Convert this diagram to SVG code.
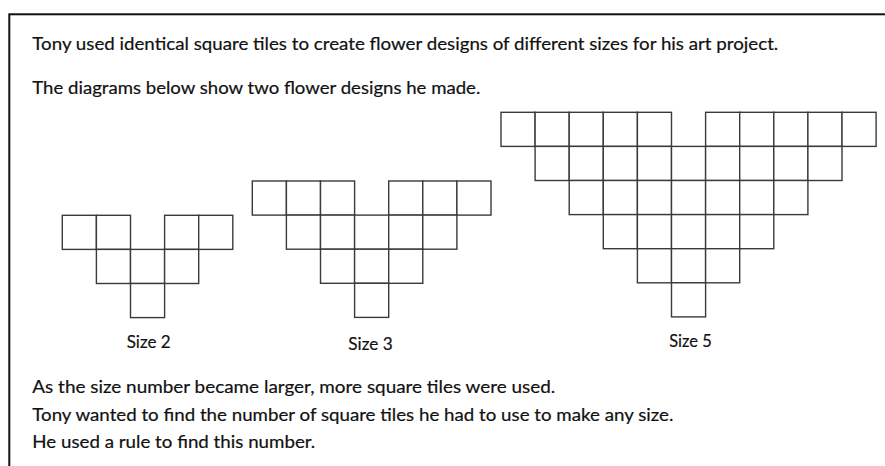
<svg xmlns="http://www.w3.org/2000/svg" width="885" height="466" viewBox="0 0 885 466">
<style>
  .frame { fill: none; stroke: #111; stroke-width: 2; }
  .tile { fill: #fff; stroke: #3a3a3a; stroke-width: 1.4; }
  .t { font-family: Lato, "Open Sans", "Liberation Sans", sans-serif; font-size: 17.5px; fill: #111; stroke: #111; stroke-width: 0.2; }
</style>
<defs>
  <rect id="cell" class="tile" width="34.1" height="34.1"/>
</defs>
<rect width="885" height="466" fill="#fff"/>
<rect class="frame" x="9.3" y="14.3" width="900" height="500"/>

<g id="intro">
  <text class="t" x="32.3" y="50" textLength="746" lengthAdjust="spacingAndGlyphs">Tony used identical square tiles to create flower designs of different sizes for his art project.</text>
  <text class="t" x="32.3" y="94" textLength="448" lengthAdjust="spacingAndGlyphs">The diagrams below show two flower designs he made.</text>
</g>

<g id="size2" transform="translate(62.3,215.3)">
  <use href="#cell" x="0" y="0"/>
  <use href="#cell" x="34.1" y="0"/>
  <use href="#cell" x="102.3" y="0"/>
  <use href="#cell" x="136.4" y="0"/>
  <use href="#cell" x="34.1" y="34.1"/>
  <use href="#cell" x="68.2" y="34.1"/>
  <use href="#cell" x="102.3" y="34.1"/>
  <use href="#cell" x="68.2" y="68.2"/>
</g>

<g id="size3" transform="translate(252.3,181)">
  <use href="#cell" x="0" y="0"/>
  <use href="#cell" x="34.1" y="0"/>
  <use href="#cell" x="68.2" y="0"/>
  <use href="#cell" x="136.4" y="0"/>
  <use href="#cell" x="170.5" y="0"/>
  <use href="#cell" x="204.6" y="0"/>
  <use href="#cell" x="34.1" y="34.1"/>
  <use href="#cell" x="68.2" y="34.1"/>
  <use href="#cell" x="102.3" y="34.1"/>
  <use href="#cell" x="136.4" y="34.1"/>
  <use href="#cell" x="170.5" y="34.1"/>
  <use href="#cell" x="68.2" y="68.2"/>
  <use href="#cell" x="102.3" y="68.2"/>
  <use href="#cell" x="136.4" y="68.2"/>
  <use href="#cell" x="102.3" y="102.3"/>
</g>

<g id="size5" transform="translate(501,112.3)">
  <use href="#cell" x="0" y="0"/>
  <use href="#cell" x="34.1" y="0"/>
  <use href="#cell" x="68.2" y="0"/>
  <use href="#cell" x="102.3" y="0"/>
  <use href="#cell" x="136.4" y="0"/>
  <use href="#cell" x="204.6" y="0"/>
  <use href="#cell" x="238.7" y="0"/>
  <use href="#cell" x="272.8" y="0"/>
  <use href="#cell" x="306.9" y="0"/>
  <use href="#cell" x="341" y="0"/>
  <use href="#cell" x="34.1" y="34.1"/>
  <use href="#cell" x="68.2" y="34.1"/>
  <use href="#cell" x="102.3" y="34.1"/>
  <use href="#cell" x="136.4" y="34.1"/>
  <use href="#cell" x="170.5" y="34.1"/>
  <use href="#cell" x="204.6" y="34.1"/>
  <use href="#cell" x="238.7" y="34.1"/>
  <use href="#cell" x="272.8" y="34.1"/>
  <use href="#cell" x="306.9" y="34.1"/>
  <use href="#cell" x="68.2" y="68.2"/>
  <use href="#cell" x="102.3" y="68.2"/>
  <use href="#cell" x="136.4" y="68.2"/>
  <use href="#cell" x="170.5" y="68.2"/>
  <use href="#cell" x="204.6" y="68.2"/>
  <use href="#cell" x="238.7" y="68.2"/>
  <use href="#cell" x="272.8" y="68.2"/>
  <use href="#cell" x="102.3" y="102.3"/>
  <use href="#cell" x="136.4" y="102.3"/>
  <use href="#cell" x="170.5" y="102.3"/>
  <use href="#cell" x="204.6" y="102.3"/>
  <use href="#cell" x="238.7" y="102.3"/>
  <use href="#cell" x="136.4" y="136.4"/>
  <use href="#cell" x="170.5" y="136.4"/>
  <use href="#cell" x="204.6" y="136.4"/>
  <use href="#cell" x="170.5" y="170.5"/>
</g>

<g id="labels">
  <text class="t" x="126.7" y="348" textLength="44" lengthAdjust="spacingAndGlyphs">Size 2</text>
  <text class="t" x="348.3" y="350" textLength="44.4" lengthAdjust="spacingAndGlyphs">Size 3</text>
  <text class="t" x="669.3" y="347" textLength="42.4" lengthAdjust="spacingAndGlyphs">Size 5</text>
</g>

<g id="outro">
  <text class="t" x="32.3" y="393" textLength="523" lengthAdjust="spacingAndGlyphs">As the size number became larger, more square tiles were used.</text>
  <text class="t" x="32.3" y="421" textLength="641" lengthAdjust="spacingAndGlyphs">Tony wanted to find the number of square tiles he had to use to make any size.</text>
  <text class="t" x="32.3" y="448" textLength="283" lengthAdjust="spacingAndGlyphs">He used a rule to find this number.</text>
</g>
</svg>
